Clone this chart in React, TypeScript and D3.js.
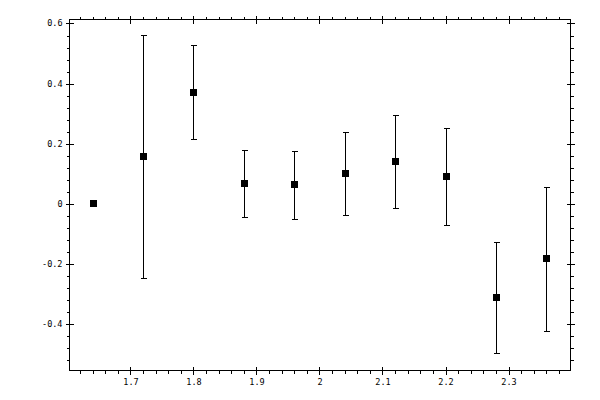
import * as d3 from 'd3';

// measurements: x position, value, symmetric error
const XS = [1.64, 1.72, 1.8, 1.88, 1.96, 2.04, 2.12, 2.2, 2.28, 2.36];
const VALUES = [0, 0.158, 0.371, 0.067, 0.063, 0.1, 0.14, 0.09, -0.313, -0.183];
const ERRORS = [0, 0.405, 0.157, 0.112, 0.113, 0.138, 0.155, 0.162, 0.185, 0.24];

const X_TICKS = [1.7, 1.8, 1.9, 2.0, 2.1, 2.2, 2.3];
const Y_TICKS = [-0.4, -0.2, 0, 0.2, 0.4, 0.6];

const W = 600, H = 400;
const FONT = '"DejaVu Sans Mono", monospace';

export default function App() {
  const x = d3.scaleLinear().domain([1.6032, 2.3984]).range([69.5, 570.5]);
  const y = d3.scaleLinear().domain([-0.5557, 0.6133]).range([370.5, 19.5]);

  const [x0, x1] = x.range();
  const [y0, y1] = y.range();

  const xMinor = d3.range(1.62, 2.4, 0.02).filter(v => v > x.domain()[0] && v < x.domain()[1]);
  const yMinor = d3.range(-0.52, 0.62, 0.04).filter(v => v > y.domain()[0] && v < y.domain()[1]);

  const fmt = (v: number) => {
    const r = Math.round(v * 10) / 10;
    return r === 0 ? '0' : d3.format('')(r).replace('−', '-');
  };

  const px = (v: number) => Math.round(v) + 0.5;

  return (
    <svg width={W} height={H} style={{ position: 'absolute', left: 0, top: 0, background: '#fff' }}>
      <g stroke="#000" strokeWidth={1} shapeRendering="crispEdges" fill="none">
        {/* frame */}
        <rect x={x0} y={y1} width={x1 - x0} height={y0 - y1} />

        {/* minor ticks, outward */}
        {xMinor.map(v => (
          <g key={'xm' + v}>
            <line x1={px(x(v))} x2={px(x(v))} y1={y0} y2={y0 + 3} />
            <line x1={px(x(v))} x2={px(x(v))} y1={y1} y2={y1 - 3} />
          </g>
        ))}
        {yMinor.map(v => (
          <g key={'ym' + v}>
            <line x1={x0} x2={x0 - 3} y1={px(y(v))} y2={px(y(v))} />
            <line x1={x1} x2={x1 + 3} y1={px(y(v))} y2={px(y(v))} />
          </g>
        ))}

        {/* major ticks, crossing */}
        {X_TICKS.map(v => (
          <g key={'xM' + v}>
            <line x1={px(x(v))} x2={px(x(v))} y1={y0 - 4} y2={y0 + 4} />
            <line x1={px(x(v))} x2={px(x(v))} y1={y1 - 4} y2={y1 + 4} />
          </g>
        ))}
        {Y_TICKS.map(v => (
          <g key={'yM' + v}>
            <line x1={x0 - 4} x2={x0 + 4} y1={px(y(v))} y2={px(y(v))} />
            <line x1={x1 - 4} x2={x1 + 4} y1={px(y(v))} y2={px(y(v))} />
          </g>
        ))}

        {/* error bars */}
        {XS.map((xv, i) => ERRORS[i] > 0 ? (
          <g key={'e' + i}>
            <line x1={px(x(xv))} x2={px(x(xv))} y1={px(y(VALUES[i] + ERRORS[i]))} y2={px(y(VALUES[i] - ERRORS[i]))} />
            <line x1={px(x(xv)) - 2.5} x2={px(x(xv)) + 3} y1={px(y(VALUES[i] + ERRORS[i]))} y2={px(y(VALUES[i] + ERRORS[i]))} />
            <line x1={px(x(xv)) - 2.5} x2={px(x(xv)) + 3} y1={px(y(VALUES[i] - ERRORS[i]))} y2={px(y(VALUES[i] - ERRORS[i]))} />
          </g>
        ) : null)}
      </g>

      {/* markers */}
      <g fill="#000" shapeRendering="crispEdges">
        {XS.map((xv, i) => (
          <rect key={'m' + i} x={Math.round(x(xv)) - 3} y={Math.round(y(VALUES[i]) - 3.5)} width={7} height={7} />
        ))}
      </g>

      {/* labels */}
      <g fontFamily={FONT} fontSize={8.5} fill="#000">
        {Y_TICKS.map(v => (
          <text key={'yl' + v} x={x0 - 7} y={y(v) + 3} textAnchor="end">{fmt(v)}</text>
        ))}
        {X_TICKS.map(v => (
          <text key={'xl' + v} x={x(v) + 0.5} y={y0 + 14} textAnchor="middle">{fmt(v)}</text>
        ))}
      </g>
    </svg>
  );
}
